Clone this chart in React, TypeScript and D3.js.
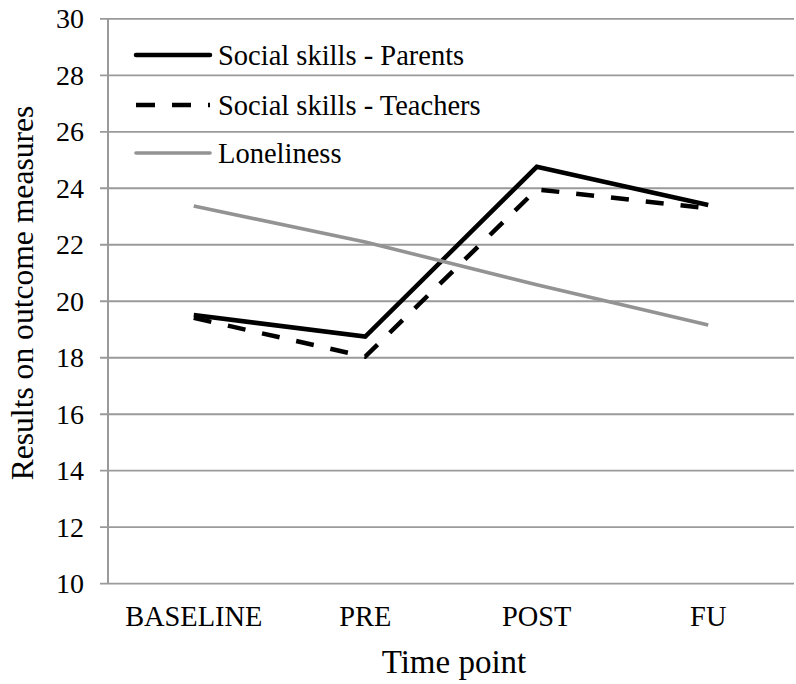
import React from "react";
import * as d3 from "d3";

const categories = ["BASELINE", "PRE", "POST", "FU"];
const parents = [19.51, 18.75, 24.76, 23.41];
const teachers = [19.41, 18.04, 23.96, 23.29];
const loneliness = [23.37, 22.1, 20.58, 19.16];
const yTicks = [10, 12, 14, 16, 18, 20, 22, 24, 26, 28, 30];
const seriesNames = ["Social skills - Parents", "Social skills - Teachers", "Loneliness"];

const W = 796;
const H = 684;
const FONT = '"Liberation Serif", "Times New Roman", Times, "DejaVu Serif", serif';
const tStyle = { fontFamily: FONT } as React.CSSProperties;

export default function App() {
  const x = d3.scaleBand<string>().domain(categories).range([108, 794]).padding(0);
  const cx = (c: string) => (x(c) as number) + x.bandwidth() / 2;
  const y = d3.scaleLinear().domain([10, 30]).range([583.7, 18.8]);

  const line = d3
    .line<number>()
    .x((_, i) => cx(categories[i]))
    .y((d) => y(d));

  const styles = [
    { stroke: "#000", width: 4.5, dash: undefined as string | undefined },
    { stroke: "#000", width: 4.5, dash: "18,17" },
    { stroke: "#939393", width: 3.6, dash: undefined as string | undefined },
  ];
  const data = [parents, teachers, loneliness];

  const legendY = [55, 105, 153];

  return (
    <svg
      width={W}
      height={H}
      style={{ position: "absolute", left: 0, top: 0, background: "#fff", fontFamily: FONT }}
    >
      <rect x={0} y={0} width={W} height={H} fill="#fff" />
      {yTicks.map((t) => (
        <line key={t} x1={100} x2={794} y1={y(t)} y2={y(t)} stroke="#9a9a9a" strokeWidth={1.8} />
      ))}
      <line x1={108} x2={108} y1={y(30)} y2={y(10)} stroke="#9a9a9a" strokeWidth={2} />
      {yTicks.map((t) => (
        <text
          key={"l" + t}
          x={84}
          y={y(t) + 9.5}
          textAnchor="end"
          fontSize={28}
          fill="#000"
          style={tStyle}
        >
          {t}
        </text>
      ))}
      {categories.map((c) => (
        <text key={c} x={cx(c)} y={626} textAnchor="middle" fontSize={28.4} fill="#000" style={tStyle}>
          {c}
        </text>
      ))}
      <text x={454} y={673} textAnchor="middle" fontSize={33} fill="#000" style={tStyle}>
        Time point
      </text>
      <text
        transform={`translate(33,293) rotate(-90)`}
        textAnchor="middle"
        fontSize={31.6}
        fill="#000"
        style={tStyle}
      >
        Results on outcome measures
      </text>
      {data.map((d, i) => (
        <path
          key={"s" + i}
          d={line(d) as string}
          fill="none"
          stroke={styles[i].stroke}
          strokeWidth={styles[i].width}
          strokeDasharray={styles[i].dash}
          strokeLinejoin="miter"
        />
      ))}
      {seriesNames.map((n, i) => (
        <g key={n}>
          <line
            x1={136}
            x2={210}
            y1={legendY[i]}
            y2={legendY[i]}
            stroke={styles[i].stroke}
            strokeWidth={styles[i].width}
            strokeDasharray={i === 1 ? "19,17" : undefined}
            strokeLinecap={i === 1 ? "butt" : "round"}
          />
          <text x={218} y={legendY[i] + 10} fontSize={28.5} fill="#000" style={tStyle}>
            {n}
          </text>
        </g>
      ))}
    </svg>
  );
}
